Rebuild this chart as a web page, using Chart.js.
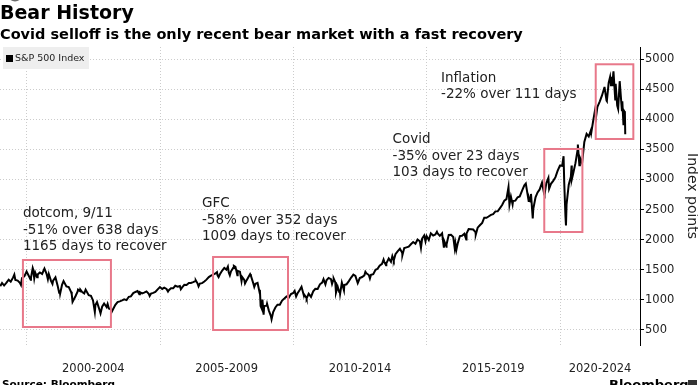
<!DOCTYPE html>
<html>
<head>
<meta charset="utf-8">
<script src="https://cdn.jsdelivr.net/npm/chart.js@4"></script>
<style>
  html, body { margin: 0; padding: 0; background: #fff; }
  canvas { display: block; }
</style>
</head>
<body>
<canvas id="c" width="698" height="385"></canvas>
<script>
// ---------------- DATA ----------------
const seriesName = 'S&P 500 Index';
const dates = [
  '1999-01-04','1999-01-29','1999-02-26','1999-03-31','1999-04-30','1999-05-28','1999-06-30','1999-07-16','1999-07-30','1999-08-31','1999-09-30','1999-10-15','1999-10-29','1999-11-30','1999-12-31',
  '2000-01-31','2000-02-25','2000-02-29','2000-03-24','2000-03-31','2000-04-14','2000-04-28','2000-05-23','2000-05-31','2000-06-30','2000-07-31','2000-09-01','2000-09-29','2000-10-18','2000-10-31','2000-11-30','2000-12-20','2000-12-29',
  '2001-01-30','2001-02-28','2001-03-22','2001-03-30','2001-04-04','2001-04-30','2001-05-21','2001-06-29','2001-07-31','2001-08-31','2001-09-10','2001-09-21','2001-10-31','2001-11-30','2001-12-05','2001-12-31',
  '2002-01-04','2002-01-31','2002-02-28','2002-03-19','2002-04-30','2002-05-31','2002-06-28','2002-07-23','2002-07-31','2002-08-22','2002-09-30','2002-10-09','2002-10-31','2002-11-27','2002-12-31',
  '2003-01-14','2003-01-31','2003-02-28','2003-03-11','2003-03-31','2003-04-30','2003-05-30','2003-06-30','2003-07-31','2003-08-29','2003-09-30','2003-10-31','2003-11-28','2003-12-31',
  '2004-01-30','2004-02-27','2004-03-24','2004-03-31','2004-04-30','2004-05-28','2004-06-30','2004-07-30','2004-08-12','2004-08-31','2004-09-30','2004-10-29','2004-11-30','2004-12-31',
  '2005-01-31','2005-02-28','2005-03-31','2005-04-20','2005-04-29','2005-05-31','2005-06-30','2005-07-29','2005-08-31','2005-09-30','2005-10-13','2005-10-31','2005-11-30','2005-12-30',
  '2006-01-31','2006-02-28','2006-03-31','2006-04-28','2006-05-05','2006-05-31','2006-06-13','2006-06-30','2006-07-31','2006-08-31','2006-09-29','2006-10-31','2006-11-30','2006-12-29',
  '2007-01-31','2007-02-20','2007-02-28','2007-03-14','2007-03-30','2007-04-30','2007-05-31','2007-06-29','2007-07-19','2007-07-31','2007-08-15','2007-08-31','2007-09-28','2007-10-09','2007-10-31','2007-11-26','2007-11-30','2007-12-31',
  '2008-01-22','2008-01-31','2008-02-29','2008-03-10','2008-03-31','2008-04-30','2008-05-19','2008-05-30','2008-06-30','2008-07-15','2008-07-31','2008-08-29','2008-09-29','2008-09-30','2008-10-10','2008-10-27','2008-10-31','2008-11-04','2008-11-20','2008-11-28','2008-12-31',
  '2009-01-06','2009-01-30','2009-02-27','2009-03-09','2009-03-31','2009-04-30','2009-05-29','2009-06-30','2009-07-31','2009-08-31','2009-09-30','2009-10-30','2009-11-30','2009-12-31',
  '2010-01-19','2010-02-08','2010-02-26','2010-03-31','2010-04-23','2010-05-25','2010-05-28','2010-06-30','2010-07-02','2010-07-30','2010-08-31','2010-09-30','2010-10-29','2010-11-30','2010-12-31',
  '2011-01-31','2011-02-18','2011-03-16','2011-03-31','2011-04-29','2011-05-31','2011-06-15','2011-06-30','2011-07-07','2011-07-29','2011-08-08','2011-08-31','2011-09-22','2011-09-30','2011-10-03','2011-10-27','2011-11-25','2011-11-30','2011-12-30',
  '2012-01-31','2012-02-29','2012-04-02','2012-04-30','2012-06-01','2012-06-29','2012-07-31','2012-08-31','2012-09-14','2012-09-28','2012-10-31','2012-11-15','2012-11-30','2012-12-31',
  '2013-01-31','2013-02-28','2013-03-28','2013-04-30','2013-05-21','2013-05-31','2013-06-24','2013-06-28','2013-07-31','2013-08-30','2013-09-18','2013-09-30','2013-10-08','2013-10-31','2013-11-29','2013-12-31',
  '2014-01-31','2014-02-03','2014-02-28','2014-03-31','2014-04-30','2014-05-30','2014-06-30','2014-07-31','2014-08-29','2014-09-30','2014-10-15','2014-10-31','2014-11-28','2014-12-16','2014-12-31',
  '2015-01-30','2015-02-27','2015-03-31','2015-04-30','2015-05-21','2015-05-29','2015-06-30','2015-07-31','2015-08-25','2015-08-31','2015-09-29','2015-09-30','2015-10-30','2015-11-30','2015-12-31',
  '2016-01-20','2016-01-29','2016-02-11','2016-02-29','2016-03-31','2016-04-29','2016-05-31','2016-06-27','2016-06-30','2016-07-29','2016-08-31','2016-09-30','2016-10-31','2016-11-04','2016-11-30','2016-12-30',
  '2017-01-31','2017-02-28','2017-03-31','2017-04-28','2017-05-31','2017-06-30','2017-07-31','2017-08-31','2017-09-29','2017-10-31','2017-11-30','2017-12-29',
  '2018-01-26','2018-02-08','2018-02-28','2018-03-23','2018-03-29','2018-04-30','2018-05-31','2018-06-29','2018-07-31','2018-08-31','2018-09-20','2018-10-29','2018-10-31','2018-11-23','2018-11-30','2018-12-24','2018-12-31',
  '2019-01-31','2019-02-28','2019-03-29','2019-04-30','2019-05-31','2019-06-03','2019-06-28','2019-07-26','2019-08-05','2019-08-30','2019-09-30','2019-10-31','2019-11-29','2019-12-31',
  '2020-01-31','2020-02-19','2020-02-28','2020-03-16','2020-03-23','2020-03-31','2020-04-30','2020-05-29','2020-06-08','2020-06-11','2020-06-30','2020-07-31','2020-08-31','2020-09-02','2020-09-23','2020-09-30','2020-10-30','2020-11-30','2020-12-31',
  '2021-01-29','2021-02-26','2021-03-04','2021-03-31','2021-04-30','2021-05-12','2021-05-28','2021-06-30','2021-07-30','2021-08-31','2021-09-02','2021-09-30','2021-10-04','2021-10-29','2021-11-18','2021-11-30','2021-12-20','2021-12-31',
  '2022-01-03','2022-01-27','2022-02-02','2022-02-23','2022-03-08','2022-03-29','2022-04-29','2022-05-04','2022-05-20','2022-05-31','2022-06-08','2022-06-13'
];
const closes = [
  1228,1280,1238,1286,1335,1302,1373,1419,1329,1320,1283,1247,1363,1389,1469,
  1395,1333,1366,1527,1499,1357,1452,1374,1421,1455,1431,1521,1437,1342,1429,1315,1265,1320,
  1374,1240,1118,1160,1103,1250,1313,1224,1211,1134,1093,966,1060,1140,1170,1148,
  1173,1130,1107,1170,1077,1067,990,798,912,963,815,777,886,939,880,
  932,856,841,801,848,917,964,975,990,1008,996,1051,1058,1112,
  1131,1145,1091,1126,1107,1121,1141,1102,1063,1104,1115,1130,1174,1212,
  1181,1204,1181,1138,1157,1192,1191,1234,1220,1229,1177,1207,1250,1248,
  1280,1281,1295,1311,1326,1270,1224,1270,1277,1304,1336,1378,1401,1418,
  1438,1460,1407,1378,1421,1482,1531,1503,1553,1455,1407,1474,1527,1565,1549,1407,1481,1468,
  1311,1379,1331,1273,1323,1386,1427,1400,1280,1215,1267,1283,1106,1166,899,849,969,1006,752,896,903,
  935,826,735,677,798,873,919,919,988,1021,1057,1036,1096,1115,
  1150,1057,1105,1169,1217,1074,1089,1031,1023,1102,1049,1141,1183,1181,1258,
  1286,1343,1257,1326,1364,1345,1265,1321,1353,1292,1120,1219,1130,1131,1099,1285,1159,1247,1258,
  1312,1366,1419,1398,1278,1362,1379,1407,1466,1441,1412,1353,1416,1426,
  1498,1515,1569,1598,1669,1631,1573,1606,1686,1633,1726,1682,1656,1757,1806,1848,
  1783,1742,1860,1872,1884,1924,1960,1931,2003,1972,1863,2018,2068,1973,2059,
  1995,2105,2068,2086,2131,2107,2063,2104,1868,1972,1884,1920,2079,2080,2044,
  1859,1940,1829,1932,2060,2065,2097,2001,2099,2174,2171,2168,2126,2085,2199,2239,
  2279,2364,2363,2384,2412,2423,2470,2472,2519,2575,2648,2674,
  2873,2581,2714,2588,2641,2648,2705,2718,2816,2902,2931,2641,2712,2633,2760,2351,2507,
  2704,2785,2834,2946,2752,2745,2942,3026,2845,2927,2977,3038,3141,3231,
  3226,3386,2954,2386,2237,2585,2912,3044,3232,3002,3100,3271,3500,3581,3237,3363,3270,3622,3756,
  3714,3811,3769,3973,4181,4063,4204,4298,4395,4523,4537,4308,4301,4605,4705,4567,4568,4766,
  4797,4327,4589,4226,4171,4632,4132,4300,3901,4132,4116,3750
];

// x-axis: period labels (centred in each period) and year gridlines
const tickLabels = ['2000-2004','2005-2009','2010-2014','2015-2019','2020-2024'];
const tickPositions = [2002.5, 2007.5, 2012.5, 2017.5, 2021.5];
const gridYears = [2000, 2005, 2010, 2015, 2020];
// y-axis ticks
const yLabelTicks = [500,1000,1500,2000,2500,3000,3500,4000,4500,5000];
const yMinorTicks = [750,1250,1750,2250,2750,3250,3750,4250,4750];

// bear market annotations (data coordinates)
const boxStart = [1999.86, 2006.99, 2019.41, 2021.34];
const boxEnd   = [2003.16, 2009.80, 2020.84, 2022.75];
const boxLow   = [549, 499, 2127, 3672];
const boxHigh  = [1662, 1712, 3506, 4913];
const noteLines = [
  ['dotcom, 9/11', '-51% over 638 days', '1165 days to recover'],
  ['GFC', '-58% over 352 days', '1009 days to recover'],
  ['Covid', '-35% over 23 days', '103 days to recover'],
  ['Inflation', '-22% over 111 days']
];
const noteX = [1999.86, 2006.575, 2013.72, 2015.54];
const noteY = [2376, 2542, 3605, 4619];

// ---------------- HELPERS ----------------
function toYear(s) {
  const [y, m, d] = s.split('-').map(Number);
  const t = Date.UTC(y, m - 1, d);
  const a = Date.UTC(y, 0, 1), b = Date.UTC(y + 1, 0, 1);
  return y + (t - a) / (b - a);
}
const points = dates.map((d, i) => ({ x: toYear(d), y: closes[i] }));
if (dates.length !== closes.length) console.error('length mismatch', dates.length, closes.length);

const FONT = '"DejaVu Sans", Verdana, sans-serif';

const overlayPlugin = {
  id: 'overlay',
  afterDatasetsDraw(chart) {
    const { ctx, scales: { x, y } } = chart;
    ctx.save();
    ctx.strokeStyle = '#e8788a';
    ctx.lineWidth = 2;
    for (let i = 0; i < boxStart.length; i++) {
      const x0 = x.getPixelForValue(boxStart[i]);
      const x1 = x.getPixelForValue(boxEnd[i]);
      const y0 = y.getPixelForValue(boxHigh[i]);
      const y1 = y.getPixelForValue(boxLow[i]);
      ctx.strokeRect(x0, y0, x1 - x0, y1 - y0);
    }
    ctx.fillStyle = '#222';
    ctx.font = '13.5px ' + FONT;
    ctx.textAlign = 'left';
    ctx.textBaseline = 'alphabetic';
    noteLines.forEach((lines, i) => {
      const tx = x.getPixelForValue(noteX[i]);
      const ty = y.getPixelForValue(noteY[i]);
      lines.forEach((t, j) => ctx.fillText(t, tx, ty + j * 16.5));
    });
    ctx.restore();
  },
  afterDraw(chart) {
    const { ctx, chartArea } = chart;
    ctx.save();
    // legend inside plot
    const lx = chartArea.left + 3, ly = chartArea.top;
    ctx.fillStyle = '#eeeeee';
    ctx.fillRect(lx, ly, 86, 22);
    ctx.fillStyle = '#000';
    ctx.fillRect(lx + 3, ly + 8, 7, 7);
    ctx.fillStyle = '#222';
    ctx.font = '9.5px ' + FONT;
    ctx.textBaseline = 'middle';
    ctx.textAlign = 'left';
    ctx.fillText(chart.data.datasets[0].label, lx + 12, ly + 12);
    // top-left icon (partially visible)
    ctx.fillStyle = '#6a6a6a';
    ctx.beginPath();
    ctx.arc(15, -6, 7.5, 0, Math.PI * 2);
    ctx.fill();
    // footer
    ctx.fillStyle = '#000';
    ctx.textBaseline = 'alphabetic';
    ctx.font = 'bold 10.5px ' + FONT;
    ctx.fillText('Source: Bloomberg', 2, 388);
    ctx.font = 'bold 13px ' + FONT;
    ctx.fillText('Bloomberg', 609, 389);
    ctx.fillStyle = '#333';
    ctx.fillRect(688, 380, 9, 9);
    ctx.restore();
  }
};

new Chart(document.getElementById('c'), {
  type: 'line',
  data: {
    datasets: [{
      label: seriesName,
      data: points,
      borderColor: '#000',
      borderWidth: 2,
      pointRadius: 0,
      tension: 0,
      fill: false
    }]
  },
  options: {
    responsive: false,
    animation: false,
    devicePixelRatio: 1,
    layout: { padding: 0 },
    plugins: {
      legend: { display: false },
      tooltip: { enabled: false },
      title: {
        display: true, text: 'Bear History', align: 'start', color: '#000',
        font: { family: FONT, size: 19, weight: 'bold', lineHeight: 1.2 },
        padding: { top: 3, bottom: 0 }
      },
      subtitle: {
        display: true, text: 'Covid selloff is the only recent bear market with a fast recovery',
        align: 'start', color: '#000',
        font: { family: FONT, size: 14.5, weight: 'bold', lineHeight: 1.2 },
        padding: { top: 1, bottom: 2.8 }
      }
    },
    scales: {
      x: {
        type: 'linear', min: 1999, max: 2023,
        afterBuildTicks: s => { s.ticks = gridYears.concat(tickPositions).sort((a, b) => a - b).map(v => ({ value: v })); },
        afterFit: s => { s.height = 40; },
        grid: {
          color: c => (c.tick && gridYears.includes(c.tick.value)) ? '#cccccc' : 'rgba(0,0,0,0)',
          drawTicks: false, lineWidth: 1
        },
        border: { display: false, dash: [1, 2] },
        ticks: {
          autoSkip: false, maxRotation: 0, minRotation: 0, padding: 17, color: '#222',
          font: { family: FONT, size: 11.5 },
          callback: v => { const i = tickPositions.indexOf(v); return i >= 0 ? tickLabels[i] : ''; }
        }
      },
      y: {
        type: 'linear', position: 'right', min: 250, max: 5200,
        afterBuildTicks: s => { s.ticks = yLabelTicks.concat(yMinorTicks).sort((a, b) => a - b).map(v => ({ value: v })); },
        afterFit: s => { s.width = 58; },
        grid: {
          color: c => (c.tick && c.tick.value % 500 === 0) ? '#cccccc' : 'rgba(0,0,0,0)',
          tickColor: '#000', tickLength: 4, drawTicks: true, lineWidth: 1
        },
        border: { display: true, color: '#000', width: 1, dash: [1, 2] },
        ticks: {
          padding: 1, color: '#222', font: { family: FONT, size: 11.5 },
          callback: v => (v % 500 === 0 ? String(v) : '')
        },
        title: {
          display: true, text: 'Index points', color: '#222',
          font: { family: FONT, size: 14 }, padding: { top: -2, bottom: 0 }
        }
      }
    }
  },
  plugins: [overlayPlugin]
});
</script>
</body>
</html>
